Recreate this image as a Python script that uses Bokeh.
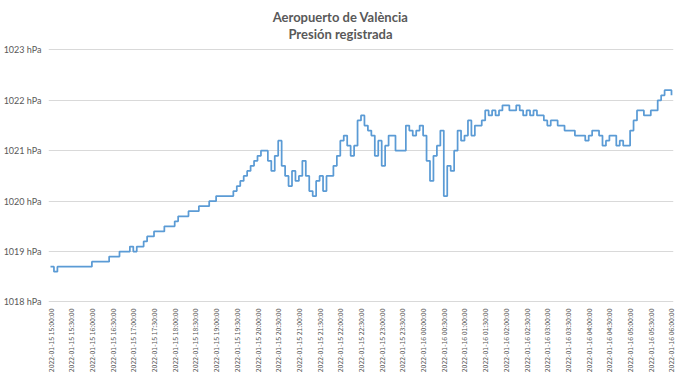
import math
import pandas as pd
from bokeh.plotting import figure
from bokeh.models import (Range1d, FixedTicker, DatetimeTickFormatter,
                          PrintfTickFormatter, Label, ColumnDataSource)
from bokeh.embed import file_html
from bokeh.resources import INLINE

# ---- data -------------------------------------------------------------
title_1 = "Aeropuerto de València"
title_2 = "Presión registrada"

start_time = "2022-01-15 15:00:00"
end_time = "2022-01-16 06:00:00"
step_minutes = 5

# pressure (hPa) every 5 minutes, 15:00 -> 06:00
pressure = [
    1018.7, 1018.6, 1018.7, 1018.7, 1018.7, 1018.7, 1018.7, 1018.7, 1018.7, 1018.7,
    1018.7, 1018.7, 1018.8, 1018.8, 1018.8, 1018.8, 1018.8, 1018.9, 1018.9, 1018.9,
    1019.0, 1019.0, 1019.0, 1019.1, 1019.0, 1019.1, 1019.1, 1019.2, 1019.3, 1019.3,
    1019.4, 1019.4, 1019.4, 1019.5, 1019.5, 1019.5, 1019.6, 1019.7, 1019.7, 1019.7,
    1019.8, 1019.8, 1019.8, 1019.9, 1019.9, 1019.9, 1020.0, 1020.0, 1020.1, 1020.1,
    1020.1, 1020.1, 1020.1, 1020.2, 1020.3, 1020.4, 1020.5, 1020.6, 1020.7, 1020.8,
    1020.9, 1021.0, 1021.0, 1020.8, 1020.6, 1020.9, 1021.2, 1020.7, 1020.5, 1020.3,
    1020.6, 1020.4, 1020.5, 1020.8, 1020.5, 1020.2, 1020.1, 1020.4, 1020.5, 1020.2,
    1020.5, 1020.5, 1020.7, 1020.9, 1021.2, 1021.3, 1021.1, 1020.9, 1021.1, 1021.6,
    1021.7, 1021.5, 1021.4, 1021.3, 1020.9, 1021.2, 1020.7, 1021.1, 1021.3, 1021.3,
    1021.0, 1021.0, 1021.0, 1021.5, 1021.4, 1021.3, 1021.4, 1021.5, 1021.3, 1020.8,
    1020.4, 1020.9, 1021.1, 1021.4, 1020.1, 1020.7, 1020.6, 1021.0, 1021.4, 1021.2,
    1021.3, 1021.6, 1021.3, 1021.5, 1021.5, 1021.6, 1021.8, 1021.7, 1021.8, 1021.7,
    1021.8, 1021.9, 1021.9, 1021.8, 1021.8, 1021.9, 1021.8, 1021.7, 1021.8, 1021.7,
    1021.8, 1021.7, 1021.7, 1021.6, 1021.5, 1021.6, 1021.6, 1021.5, 1021.5, 1021.4,
    1021.4, 1021.4, 1021.3, 1021.3, 1021.3, 1021.2, 1021.3, 1021.4, 1021.4, 1021.3,
    1021.1, 1021.2, 1021.3, 1021.3, 1021.1, 1021.2, 1021.1, 1021.1, 1021.4, 1021.6,
    1021.8, 1021.8, 1021.7, 1021.7, 1021.8, 1021.8, 1022.0, 1022.1, 1022.2, 1022.2,
    1022.1,
]

y_ticks = [1018, 1019, 1020, 1021, 1022, 1023]

x_tick_labels = [
    "2022-01-15 15:00:00", "2022-01-15 15:30:00", "2022-01-15 16:00:00",
    "2022-01-15 16:30:00", "2022-01-15 17:00:00", "2022-01-15 17:30:00",
    "2022-01-15 18:00:00", "2022-01-15 18:30:00", "2022-01-15 19:00:00",
    "2022-01-15 19:30:00", "2022-01-15 20:00:00", "2022-01-15 20:30:00",
    "2022-01-15 21:00:00", "2022-01-15 21:30:00", "2022-01-15 22:00:00",
    "2022-01-15 22:30:00", "2022-01-15 23:00:00", "2022-01-15 23:30:00",
    "2022-01-16 00:00:00", "2022-01-16 00:30:00", "2022-01-16 01:00:00",
    "2022-01-16 01:30:00", "2022-01-16 02:00:00", "2022-01-16 02:30:00",
    "2022-01-16 03:00:00", "2022-01-16 03:30:00", "2022-01-16 04:00:00",
    "2022-01-16 04:30:00", "2022-01-16 05:00:00", "2022-01-16 05:30:00",
    "2022-01-16 06:00:00",
]

# ---- build ------------------------------------------------------------
times = pd.date_range(start_time, end_time, freq=f"{step_minutes}min")
source = ColumnDataSource(data=dict(t=times, p=pressure))

t0 = pd.Timestamp(start_time)
t1 = pd.Timestamp(end_time)
pad = pd.Timedelta(minutes=2.9)

TXT = "#595959"
FONT = "Lato"
NARROW = "Noto Sans CJK JP"

# the frame reaches up to the top of the chart so the two title lines can
# sit inside it; only 1018..1023 carry ticks and grid lines
p = figure(width=680, height=375, output_backend="svg", toolbar_location=None,
           title=None, x_axis_type="datetime",
           x_range=Range1d(t0 - pad, t1 + pad),
           y_range=Range1d(1017.99, 1023.94),
           min_border_left=48, min_border_right=7, min_border_top=2,
           min_border_bottom=0)

for txt, yy in ((title_1, 1023.66), (title_2, 1023.32)):
    p.add_layout(Label(x=292, y=yy, x_units="screen", y_units="data",
                       text=txt, text_align="center", text_baseline="middle",
                       text_font=FONT, text_font_size="13px",
                       text_font_style="bold", text_color=TXT))

p.step("t", "p", source=source, mode="after", line_color="#5b9bd5",
       line_width=1.75)

tick_ms = [pd.Timestamp(s).value / 1e6 for s in x_tick_labels]
fmt = "%Y-%m-%d %H:%M:%S"
p.xaxis.ticker = FixedTicker(ticks=tick_ms)
p.xaxis.formatter = DatetimeTickFormatter(
    microseconds=fmt, milliseconds=fmt, seconds=fmt, minsec=fmt, minutes=fmt,
    hourmin=fmt, hours=fmt, days=fmt, months=fmt, years=fmt, context=None)
p.xaxis.major_label_orientation = math.pi / 2
p.xaxis.major_label_text_font = NARROW
p.xaxis.major_label_text_font_size = "6.9px"
p.xaxis.major_label_text_color = TXT
p.xaxis.major_label_standoff = 6

p.yaxis.ticker = FixedTicker(ticks=y_ticks)
p.yaxis.formatter = PrintfTickFormatter(format="%d hPa")
p.yaxis.major_label_text_font = FONT
p.yaxis.major_label_text_font_size = "9px"
p.yaxis.major_label_text_color = TXT
p.yaxis.major_label_standoff = 7

for ax in (p.xaxis, p.yaxis):
    ax.axis_line_color = None
    ax.major_tick_line_color = None
    ax.minor_tick_line_color = None
    ax.major_tick_out = 0
    ax.major_tick_in = 0
    ax.minor_tick_out = 0
    ax.minor_tick_in = 0

p.xgrid.visible = False
p.ygrid.ticker = FixedTicker(ticks=y_ticks)
p.ygrid.grid_line_color = "#d9d9d9"
p.outline_line_color = None
p.background_fill_color = "white"
p.border_fill_color = "white"

open("out.html", "w").write(file_html(p, INLINE))
